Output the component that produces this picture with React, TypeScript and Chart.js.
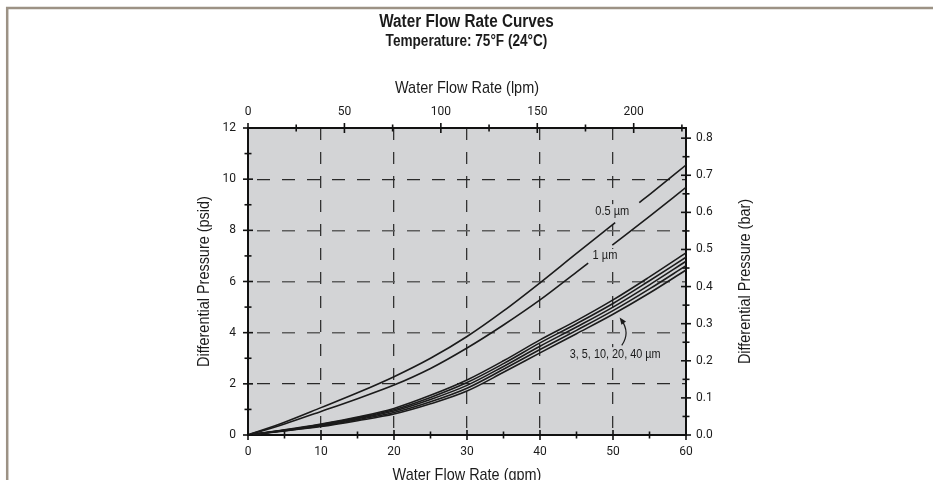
import { useEffect, useRef } from "react";
import { Chart, registerables } from "chart.js";

Chart.register(...registerables);

const TEXT_FONT = '"Liberation Sans", Arial, sans-serif';
const TICK_FONT = 'Roboto, "Liberation Sans", sans-serif';
const SQUEEZE = 0.85; // horizontal compression imitating the condensed face
const PLOT_BG = "#d3d4d6";

const chartTitle = "Water Flow Rate Curves";
const chartSubtitle = "Temperature: 75°F (24°C)";
const xTitle = "Water Flow Rate (gpm)";
const x2Title = "Water Flow Rate (lpm)";
const yTitle = "Differential Pressure (psid)";
const y2Title = "Differential Pressure (bar)";

// axis ranges / unit conversions
const GPM_MAX = 60;
const PSID_MAX = 12;
const LPM_PER_GPM = 3.785411784;
const PSI_PER_BAR = 14.5038;

// 0.5 µm curve (null = break in the line where the label sits)
const flow05 = [0, 5, 10, 15, 20, 25, 30, 35, 40, 45, 50.3, 52, 53.6, 55, 60];
const psid05 = [0, 0.5, 1.07, 1.65, 2.28, 3.0, 3.85, 4.85, 5.95, 7.1, 8.3, null, 9.08, 9.4, 10.55];

// 1 µm curve
const flow1 = [0, 5, 10, 15, 20, 25, 30, 35, 40, 45, 46.6, 48.2, 49.9, 55, 60];
const psid1 = [0, 0.43, 0.92, 1.42, 1.95, 2.6, 3.4, 4.3, 5.28, 6.37, 6.72, null, 7.42, 8.55, 9.68];

// 3, 5, 10, 20, 40 µm curves
const flowGpm = [0, 5, 10, 15, 20, 25, 30, 35, 40, 45, 50, 55, 60];
const psid3 = [0, 0.2, 0.43, 0.7, 1.04, 1.55, 2.15, 2.9, 3.72, 4.47, 5.28, 6.18, 7.12];
const psid5 = [0, 0.19, 0.41, 0.67, 0.99, 1.47, 2.05, 2.79, 3.6, 4.35, 5.14, 6.03, 6.95];
const psid10 = [0, 0.18, 0.38, 0.64, 0.94, 1.39, 1.94, 2.68, 3.47, 4.22, 5.0, 5.87, 6.79];
const psid20 = [0, 0.17, 0.35, 0.6, 0.88, 1.3, 1.83, 2.57, 3.34, 4.09, 4.86, 5.71, 6.62];
const psid40 = [0, 0.16, 0.33, 0.56, 0.82, 1.22, 1.72, 2.45, 3.21, 3.96, 4.72, 5.55, 6.45];

const seriesNames = ["0.5 µm", "1 µm", "3 µm", "5 µm", "10 µm", "20 µm", "40 µm"];
const curveLabels = ["0.5 µm", "1 µm", "3, 5, 10, 20, 40 µm"];

const INK = "#1b1b1b";

const pts = (xs: number[], ys: (number | null)[]) => xs.map((x, i) => ({ x, y: ys[i] }));

function squeezedText(
  ctx: any,
  text: string,
  x: number,
  y: number,
  font: string,
  rot = 0,
  knockout = false
) {
  ctx.save();
  ctx.translate(x, y);
  if (rot) ctx.rotate(rot);
  ctx.scale(SQUEEZE, 1);
  ctx.font = font;
  ctx.textAlign = "center";
  ctx.textBaseline = "middle";
  if (knockout) {
    const w = ctx.measureText(text).width;
    const fill = ctx.fillStyle;
    ctx.fillStyle = PLOT_BG;
    ctx.fillRect(-w / 2 - 2, -7, w + 4, 14);
    ctx.fillStyle = fill;
  }
  ctx.fillText(text, 0, 0);
  ctx.restore();
}

const bgPlugin = {
  id: "plotBg",
  beforeDraw(chart: any) {
    const { ctx, chartArea: a } = chart;
    ctx.save();
    ctx.fillStyle = PLOT_BG;
    ctx.fillRect(a.left, a.top, a.right - a.left, a.bottom - a.top);
    ctx.restore();
  },
};

const ticksPlugin = {
  id: "crossTicks",
  afterDraw(chart: any) {
    const { ctx, chartArea: a } = chart;
    ctx.save();
    ctx.strokeStyle = "#111";
    ctx.lineWidth = 1.6;
    ["x", "x2", "y", "y2"].forEach((id) => {
      const s = chart.scales[id];
      s.ticks.forEach((t: any) => {
        const len = t.label !== "" ? 5 : 3.5;
        const p = s.getPixelForValue(t.value);
        ctx.beginPath();
        if (id === "x") {
          ctx.moveTo(p, a.bottom - len);
          ctx.lineTo(p, a.bottom + len);
        } else if (id === "x2") {
          ctx.moveTo(p, a.top - len);
          ctx.lineTo(p, a.top + len);
        } else if (id === "y") {
          ctx.moveTo(a.left - len, p);
          ctx.lineTo(a.left + len, p);
        } else {
          ctx.moveTo(a.right - len, p);
          ctx.lineTo(a.right + len, p);
        }
        ctx.stroke();
      });
    });
    ctx.restore();
  },
};

const annotationPlugin = {
  id: "curveNotes",
  afterDatasetsDraw(chart: any) {
    const { ctx } = chart;
    const xs = chart.scales.x;
    const ys = chart.scales.y;
    const px = (g: number) => xs.getPixelForValue(g);
    const py = (p: number) => ys.getPixelForValue(p);
    const anchors = [
      { g: 49.9, p: 8.75, size: 13 },
      { g: 48.9, p: 7.0, size: 13 },
      { g: 50.3, p: 3.16, size: 12.8 },
    ];
    ctx.save();
    ctx.fillStyle = INK;
    curveLabels.forEach((txt, i) => {
      squeezedText(
        ctx,
        txt,
        px(anchors[i].g),
        py(anchors[i].p),
        `${anchors[i].size}px ${TEXT_FONT}`,
        0,
        true
      );
    });
    // curved arrow pointing at the lower bundle
    const sx = px(51.2), sy = py(3.5);
    const cx = px(52.4), cy = py(4.0);
    const ex = px(51.15), ey = py(4.5);
    ctx.strokeStyle = INK;
    ctx.lineWidth = 1.2;
    ctx.beginPath();
    ctx.moveTo(sx, sy);
    ctx.quadraticCurveTo(cx, cy, ex, ey);
    ctx.stroke();
    const ang = Math.atan2(ey - cy, ex - cx);
    const tipX = ex + Math.cos(ang) * 3;
    const tipY = ey + Math.sin(ang) * 3;
    const L = 7, W = 2.8;
    ctx.beginPath();
    ctx.moveTo(tipX, tipY);
    ctx.lineTo(tipX - L * Math.cos(ang) + W * Math.sin(ang), tipY - L * Math.sin(ang) - W * Math.cos(ang));
    ctx.lineTo(tipX - L * Math.cos(ang) - W * Math.sin(ang), tipY - L * Math.sin(ang) + W * Math.cos(ang));
    ctx.closePath();
    ctx.fill();
    ctx.restore();
  },
};

const framePlugin = {
  id: "frameTitles",
  afterDraw(chart: any) {
    const { ctx, width, chartArea: a } = chart;
    ctx.save();
    ctx.strokeStyle = "#9c9285";
    ctx.lineWidth = 2.5;
    ctx.beginPath();
    ctx.moveTo(7.2, 480);
    ctx.lineTo(7.2, 8);
    ctx.lineTo(width, 8);
    ctx.stroke();
    ctx.fillStyle = INK;
    squeezedText(ctx, chartTitle, width / 2, 22, `bold 18px ${TEXT_FONT}`);
    squeezedText(ctx, chartSubtitle, width / 2, 42, `bold 16px ${TEXT_FONT}`);
    const midX = (a.left + a.right) / 2;
    const midY = (a.top + a.bottom) / 2;
    const tf = `17px ${TEXT_FONT}`;
    squeezedText(ctx, x2Title, midX, a.top - 40, tf);
    squeezedText(ctx, xTitle, midX, a.bottom + 40, tf);
    squeezedText(ctx, yTitle, a.left - 44, midY, tf, -Math.PI / 2);
    squeezedText(ctx, y2Title, a.right + 59, midY, tf, -Math.PI / 2);
    ctx.restore();
  },
};

const tickFont = { family: TICK_FONT, size: 12 };

export default function App() {
  const ref = useRef<HTMLCanvasElement | null>(null);

  useEffect(() => {
    if (!ref.current) return;
    const series = [
      pts(flow05, psid05),
      pts(flow1, psid1),
      pts(flowGpm, psid3),
      pts(flowGpm, psid5),
      pts(flowGpm, psid10),
      pts(flowGpm, psid20),
      pts(flowGpm, psid40),
    ];
    const chart = new Chart(ref.current, {
      type: "line",
      data: {
        datasets: series.map((d, i) => ({
          label: seriesNames[i],
          data: d,
          xAxisID: "x",
          yAxisID: "y",
          borderColor: INK,
          borderWidth: 1.6,
          pointRadius: 0,
          fill: false,
          spanGaps: false,
          cubicInterpolationMode: "monotone",
        })),
      },
      options: {
        responsive: false,
        animation: false,
        layout: { padding: { left: 194, right: 178, top: 78, bottom: 0 } },
        plugins: {
          legend: { display: false },
          tooltip: { enabled: false },
          title: { display: false },
        },
        scales: {
          x: {
            type: "linear",
            position: "bottom",
            min: 0,
            max: GPM_MAX,
            afterFit: (s: any) => {
              s.height = 45;
            },
            ticks: {
              stepSize: 5,
              autoSkip: false,
              maxRotation: 0,
              padding: 10,
              color: INK,
              font: tickFont,
              callback: (v: any) => (Number(v) % 10 === 0 ? String(v) : ""),
            },
            grid: {
              drawTicks: false,
              color: (c: any) => {
                const v = c.tick ? c.tick.value : 0;
                return v % 10 === 0 && v > 0 && v < GPM_MAX ? "#333" : "rgba(0,0,0,0)";
              },
              lineWidth: 1.3,
            },
            border: { color: "#111", width: 2, dash: [12, 12], dashOffset: 0 },
            title: { display: false, text: xTitle },
          },
          x2: {
            type: "linear",
            position: "top",
            min: 0,
            max: GPM_MAX * LPM_PER_GPM,
            afterFit: (s: any) => {
              s.height = 50;
            },
            ticks: {
              stepSize: 25,
              includeBounds: false,
              autoSkip: false,
              maxRotation: 0,
              padding: 9,
              color: INK,
              font: tickFont,
              callback: (v: any) => (Number(v) % 50 === 0 ? String(v) : ""),
            },
            grid: { display: false, drawTicks: false },
            border: { color: "#111", width: 2 },
            title: { display: false, text: x2Title },
          },
          y: {
            type: "linear",
            position: "left",
            min: 0,
            max: PSID_MAX,
            afterFit: (s: any) => {
              s.width = 54;
            },
            ticks: {
              stepSize: 1,
              autoSkip: false,
              padding: 12,
              color: INK,
              font: tickFont,
              callback: (v: any) => (Number(v) % 2 === 0 ? String(v) : ""),
            },
            grid: {
              drawTicks: false,
              color: (c: any) => {
                const v = c.tick ? c.tick.value : 0;
                if (v % 2 !== 0 || v <= 0 || v >= PSID_MAX) return "rgba(0,0,0,0)";
                return v === 2 || v === 10 ? "#2a2a2a" : "#5e5e5e";
              },
              lineWidth: (c: any) => {
                const v = c.tick ? c.tick.value : 0;
                return v === 2 || v === 10 ? 1.3 : 1.6;
              },
            },
            border: { color: "#111", width: 2, dash: [13, 12], dashOffset: 17 },
            title: { display: false, text: yTitle },
          },
          y2: {
            type: "linear",
            position: "right",
            min: 0,
            max: PSID_MAX / PSI_PER_BAR,
            afterFit: (s: any) => {
              s.width = 69;
            },
            ticks: {
              stepSize: 0.05,
              includeBounds: false,
              autoSkip: false,
              padding: 10,
              color: INK,
              font: tickFont,
              callback: (v: any) =>
                Math.round(Number(v) * 100) % 10 === 0 ? Number(v).toFixed(1) : "",
            },
            grid: { display: false, drawTicks: false },
            border: { color: "#111", width: 2 },
            title: { display: false, text: y2Title },
          },
        },
      } as any,
      plugins: [bgPlugin, annotationPlugin, ticksPlugin, framePlugin],
    });
    return () => chart.destroy();
  }, []);

  return (
    <div style={{ position: "absolute", left: 0, top: 0, width: 933, height: 480, background: "#fff" }}>
      <canvas ref={ref} width={933} height={480} style={{ display: "block" }} />
    </div>
  );
}
